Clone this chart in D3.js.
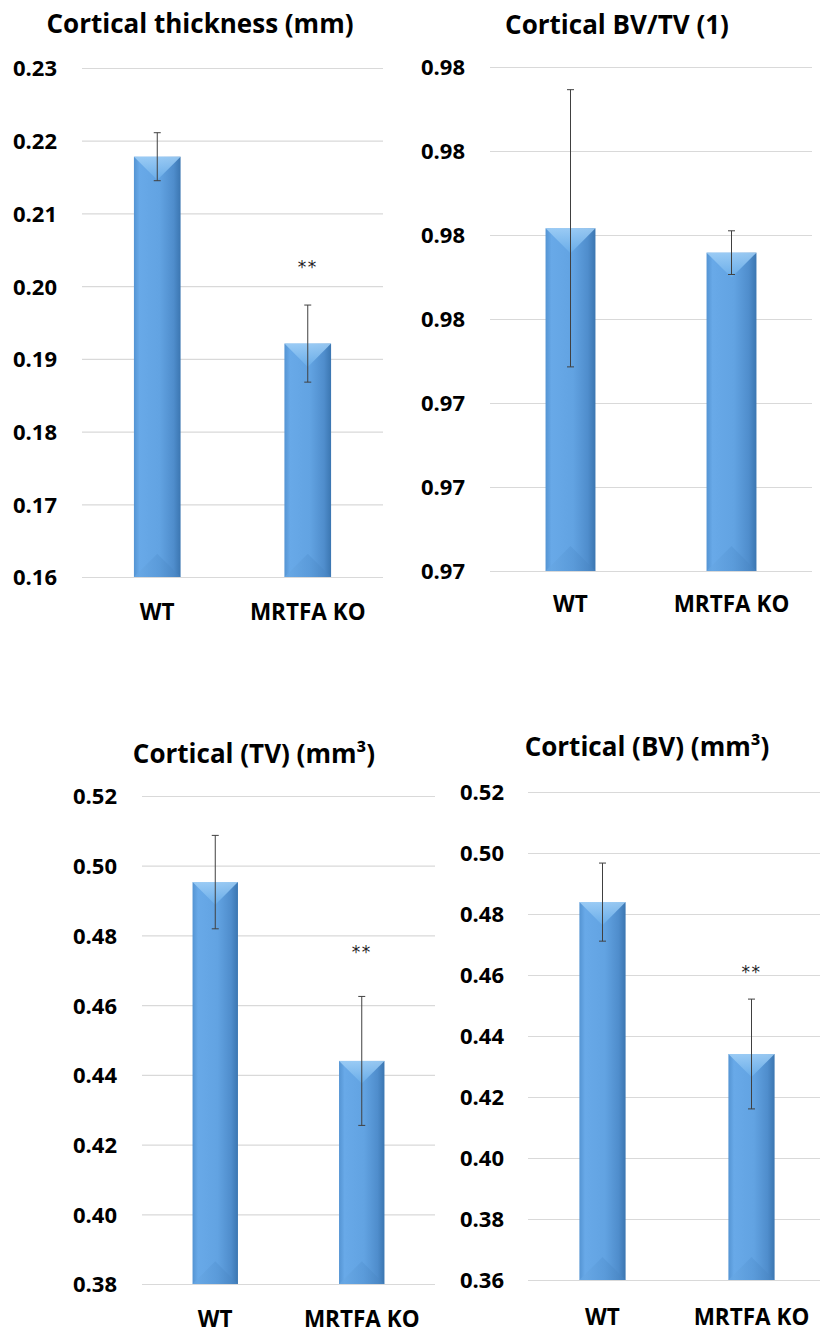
<!DOCTYPE html>
<html lang="en">
<head>
  <meta charset="UTF-8">
  <title>Cortical bone parameters</title>
  <script src="https://cdn.jsdelivr.net/npm/d3@7/dist/d3.min.js"></script>
  <style>
    body { margin: 0; background: #fff; }
    .chart text { font-family: "Open Sans", Lato, sans-serif; fill: #000; }
    .title { font-size: 26px; font-weight: bold; }
    .tick-label text { font-size: 22px; font-weight: bold; }
    .cat { font-size: 22.5px; font-weight: bold; }
    .grid line { stroke: #d9d9d9; stroke-width: 1.2px; }
    .err { stroke: #404040; stroke-width: 1px; fill: none; }
    .chart text.star { font-family: "DejaVu Sans", sans-serif; font-size: 17px; letter-spacing: 1.5px; fill: #222; }
  </style>
</head>
<body>
<div class="chart"></div>
<script>
  // groups
  const categories = ['WT', 'MRTFA KO'];

  // Cortical thickness (mm)
  const thicknessMean = [0.2178, 0.1921];
  const thicknessErr = [0.0033, 0.0053];
  const thicknessSig = ['', '**'];
  const thicknessTicks = [0.16, 0.17, 0.18, 0.19, 0.20, 0.21, 0.22, 0.23];
  const thicknessTickLabels = ['0.16', '0.17', '0.18', '0.19', '0.20', '0.21', '0.22', '0.23'];

  // Cortical BV/TV (1)
  const bvtvMean = [0.97608, 0.97579];
  const bvtvErr = [0.00165, 0.00026];
  const bvtvSig = ['', ''];
  const bvtvTicks = [0.972, 0.973, 0.974, 0.975, 0.976, 0.977, 0.978];
  const bvtvTickLabels = ['0.97', '0.97', '0.97', '0.98', '0.98', '0.98', '0.98'];

  // Cortical (TV) (mm3)
  const tvMean = [0.4953, 0.4440];
  const tvErr = [0.0134, 0.0185];
  const tvSig = ['', '**'];
  const tvTicks = [0.38, 0.40, 0.42, 0.44, 0.46, 0.48, 0.50, 0.52];
  const tvTickLabels = ['0.38', '0.40', '0.42', '0.44', '0.46', '0.48', '0.50', '0.52'];

  // Cortical (BV) (mm3)
  const bvMean = [0.4839, 0.4341];
  const bvErr = [0.0128, 0.0180];
  const bvSig = ['', '**'];
  const bvTicks = [0.36, 0.38, 0.40, 0.42, 0.44, 0.46, 0.48, 0.50, 0.52];
  const bvTickLabels = ['0.36', '0.38', '0.40', '0.42', '0.44', '0.46', '0.48', '0.50', '0.52'];

  const W = 820, H = 1334;

  const panels = [
    {title: 'Cortical thickness (mm)', mean: thicknessMean, err: thicknessErr, sig: thicknessSig,
     ticks: thicknessTicks, labels: thicknessTickLabels,
     x0: 82, x1: 383, yTop: 68, yBot: 577, gridEnd: 383, titleX: 200, titleY: 33, labelX: 57, catY: 620, starY: 273},
    {title: 'Cortical BV/TV (1)', mean: bvtvMean, err: bvtvErr, sig: bvtvSig,
     ticks: bvtvTicks, labels: bvtvTickLabels,
     x0: 490, x1: 812, yTop: 67, yBot: 571, gridEnd: 812, titleX: 617, titleY: 34, labelX: 465, catY: 612, starY: 0},
    {title: 'Cortical (TV) (mm³)', mean: tvMean, err: tvErr, sig: tvSig,
     ticks: tvTicks, labels: tvTickLabels,
     x0: 142, x1: 435, yTop: 796, yBot: 1284, gridEnd: 435, titleX: 254, titleY: 763, labelX: 117, catY: 1327, starY: 958},
    {title: 'Cortical (BV) (mm³)', mean: bvMean, err: bvErr, sig: bvSig,
     ticks: bvTicks, labels: bvTickLabels,
     x0: 528, x1: 826, yTop: 792, yBot: 1280, gridEnd: 820, titleX: 647, titleY: 756, labelX: 504, catY: 1325, starY: 978}
  ];

  const svg = d3.select('.chart')
    .append('svg')
    .attr('width', W).attr('height', H);

  // bar shading (Excel style bevel)
  const defs = svg.append('defs');
  const sideGrad = defs.append('linearGradient').attr('id', 'barSide')
    .attr('x1', '0%').attr('x2', '100%').attr('y1', '0%').attr('y2', '0%');
  [['0%', '#5494d3'], ['12%', '#68a9e8'], ['55%', '#62a3e2'], ['85%', '#4f8dcc'], ['100%', '#3b76b1']]
    .forEach(s => sideGrad.append('stop').attr('offset', s[0]).attr('stop-color', s[1]));
  const topGrad = defs.append('linearGradient').attr('id', 'barTop')
    .attr('x1', '0%').attr('x2', '0%').attr('y1', '0%').attr('y2', '100%');
  [['0%', '#a3d1f7'], ['100%', '#6aaeea']]
    .forEach(s => topGrad.append('stop').attr('offset', s[0]).attr('stop-color', s[1]));
  const botGrad = defs.append('linearGradient').attr('id', 'barBot')
    .attr('x1', '0%').attr('x2', '100%').attr('y1', '0%').attr('y2', '0%');
  [['0%', '#6aaae6'], ['50%', '#5797d6'], ['100%', '#4682bf']]
    .forEach(s => botGrad.append('stop').attr('offset', s[0]).attr('stop-color', s[1]));

  function drawPanel(p) {
    const g = svg.append('g');
    const x = d3.scaleBand().domain(categories).range([p.x0, p.x1])
      .paddingInner(0.69).paddingOuter(0.345);
    const y = d3.scaleLinear().domain([p.ticks[0], p.ticks[p.ticks.length - 1]]).range([p.yBot, p.yTop]);

    // gridlines
    const grid = g.append('g').attr('class', 'grid')
      .attr('transform', `translate(${p.x0} 0)`)
      .call(d3.axisLeft(y).tickValues(p.ticks).tickSize(-(p.gridEnd - p.x0)).tickFormat(''));
    grid.select('.domain').remove();

    // tick labels
    const lab = g.append('g').attr('class', 'tick-label')
      .attr('transform', `translate(${p.labelX} 0)`)
      .call(d3.axisLeft(y).tickValues(p.ticks).tickSize(0).tickPadding(0)
        .tickFormat((d, i) => p.labels[i]));
    lab.select('.domain').remove();
    lab.selectAll('text').attr('dy', '0.36em');

    // title
    g.append('text').attr('class', 'title')
      .attr('x', p.titleX).attr('y', p.titleY)
      .attr('text-anchor', 'middle').text(p.title);

    const rows = categories.map((c, i) => ({c, m: p.mean[i], e: p.err[i], s: p.sig[i]}));
    const bw = x.bandwidth();

    const bar = g.selectAll('g.bar').data(rows).enter().append('g').attr('class', 'bar');
    bar.append('rect')
      .attr('x', d => x(d.c)).attr('y', d => y(d.m))
      .attr('width', bw).attr('height', d => y(p.ticks[0]) - y(d.m))
      .attr('fill', 'url(#barSide)');
    bar.append('path')
      .attr('fill', 'url(#barTop)').attr('opacity', 0.85)
      .attr('d', d => {
        const xa = x(d.c), xb = xa + bw, yt = y(d.m);
        return `M${xa},${yt}L${xb},${yt}L${xa + bw / 2},${yt + bw / 2}Z`;
      });
    bar.append('path')
      .attr('fill', 'url(#barBot)').attr('opacity', 0.6)
      .attr('d', d => {
        const xa = x(d.c), xb = xa + bw, yb = y(p.ticks[0]);
        return `M${xa},${yb}L${xb},${yb}L${xa + bw / 2},${yb - bw / 2}Z`;
      });

    // error bars
    const cap = 3.5;
    bar.append('path').attr('class', 'err')
      .attr('d', d => {
        const cx = x(d.c) + bw / 2, ya = y(d.m + d.e), yb = y(d.m - d.e);
        return `M${cx},${ya}V${yb}M${cx - cap},${ya}H${cx + cap}M${cx - cap},${yb}H${cx + cap}`;
      });

    // significance
    bar.filter(d => d.s).append('text').attr('class', 'star')
      .attr('x', d => x(d.c) + bw / 2).attr('y', p.starY)
      .attr('text-anchor', 'middle').text(d => d.s);

    // categories
    g.selectAll('text.cat').data(categories).enter().append('text').attr('class', 'cat')
      .attr('x', d => x(d) + bw / 2).attr('y', p.catY)
      .attr('text-anchor', 'middle').text(d => d);
  }

  panels.forEach(drawPanel);
</script>
</body>
</html>
